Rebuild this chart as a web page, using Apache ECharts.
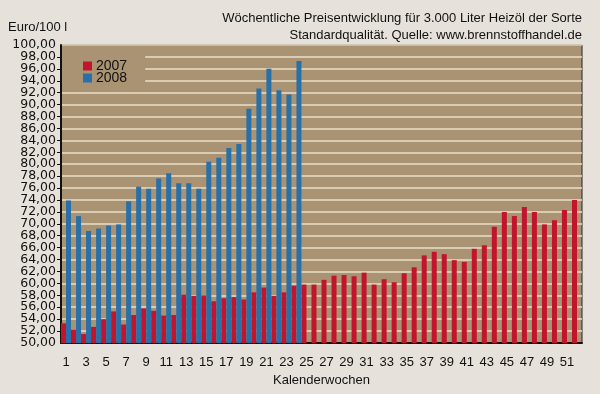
<!DOCTYPE html>
<html>
<head>
<meta charset="utf-8">
<script src="https://cdn.jsdelivr.net/npm/echarts@6/dist/echarts.min.js"></script>
<style>
html,body{margin:0;padding:0;background:#E6E2DB;}
#c{width:600px;height:394px;}
</style>
</head>
<body>
<div id="c"></div>
<script>
const weeks = Array.from({length: 52}, (_, i) => String(i + 1));
const series2007 = [53.3,52.2,51.5,52.7,54.0,55.3,53.1,54.7,55.8,55.4,54.6,54.7,58.1,57.9,58.0,57.0,57.5,57.7,57.3,58.5,59.3,57.9,58.5,59.6,59.8,59.8,60.6,61.3,61.4,61.2,61.8,59.8,60.7,60.2,61.7,62.7,64.7,65.3,64.9,63.9,63.6,65.8,66.4,69.5,72.0,71.3,72.8,72.0,69.9,70.6,72.3,74.0];
const series2008 = [73.9,71.3,68.8,69.2,69.7,69.9,73.8,76.2,75.9,77.6,78.5,76.8,76.8,75.9,80.4,81.1,82.7,83.4,89.3,92.7,96.0,92.4,91.7,97.3];
const yMin = 50, yMax = 100, yStep = 2;
const titleLine1 = 'Wöchentliche Preisentwicklung für 3.000 Liter Heizöl der Sorte';
const titleLine2 = 'Standardqualität. Quelle: www.brennstoffhandel.de';
const yUnit = 'Euro/100 l';
const xName = 'Kalenderwochen';

const FONT = '"Liberation Sans", Arial, sans-serif';
const fmt = v => v.toFixed(2).replace('.', ',');
const labelStyle = {margin: 5, fontFamily: '"DejaVu Sans", sans-serif', fontSize: 12.5, color: '#111', formatter: fmt};
const chart = echarts.init(document.getElementById('c'), null, {renderer: 'canvas'});
chart.setOption({
  backgroundColor: '#E6E2DB',
  animation: false,
  textStyle: {fontFamily: FONT, color: '#111'},
  title: [
    {text: titleLine1, right: 18, top: 12, textStyle: {fontFamily: FONT, fontSize: 13, fontWeight: 'normal', color: '#111'}, padding: 0},
    {text: titleLine2, right: 18, top: 29, textStyle: {fontFamily: FONT, fontSize: 13, fontWeight: 'normal', color: '#111'}, padding: 0},
    {text: yUnit, left: 8, top: 21, textStyle: {fontFamily: FONT, fontSize: 13, fontWeight: 'normal', color: '#111'}, padding: 0}
  ],
  legend: {
    orient: 'vertical',
    left: 62, top: 46,
    padding: [13, 18, 6, 21],
    backgroundColor: '#A99373',
    itemWidth: 9, itemHeight: 9, itemGap: -2,
    icon: 'rect',
    textStyle: {fontFamily: FONT, fontSize: 14, color: '#111', padding: [0, 0, 0, -1]},
    data: ['2007', '2008']
  },
  grid: {
    left: 61, right: 18, top: 45, bottom: 51,
    show: true, backgroundColor: '#A99373', borderColor: '#222', borderWidth: 1
  },
  xAxis: {
    type: 'category',
    data: weeks,
    name: xName,
    nameLocation: 'middle',
    nameGap: 29,
    nameTextStyle: {fontFamily: FONT, fontSize: 13, color: '#111'},
    axisLine: {lineStyle: {color: '#111', width: 2}},
    axisTick: {length: 4, lineStyle: {color: '#111', width: 1}},
    axisLabel: {interval: 1, margin: 13, fontFamily: FONT, fontSize: 13, color: '#111'}
  },
  yAxis: [
    {
      type: 'value', position: 'left',
      min: yMin, max: yMax, interval: yStep,
      axisLine: {show: true, lineStyle: {color: '#111', width: 2}},
      axisTick: {show: true, length: 4, lineStyle: {color: '#111', width: 1}},
      axisLabel: Object.assign({showMinLabel: false, showMaxLabel: false}, labelStyle),
      splitLine: {lineStyle: {color: '#EADFC9', width: 1.5}}
    },
    {
      type: 'value', position: 'left', offset: 0,
      min: yMin, max: yMax, interval: yMax - yMin,
      axisLine: {show: false}, axisTick: {show: false}, splitLine: {show: false},
      axisLabel: labelStyle
    }
  ],
  series: [
    {name: '2007', type: 'bar', data: series2007, barGap: '0%', barCategoryGap: '0%',
     itemStyle: {color: '#C2142C'}},
    {name: '2008', type: 'bar', data: series2008, barGap: '0%', barCategoryGap: '0%',
     itemStyle: {color: '#2A70A8'}}
  ]
});
</script>
</body>
</html>
